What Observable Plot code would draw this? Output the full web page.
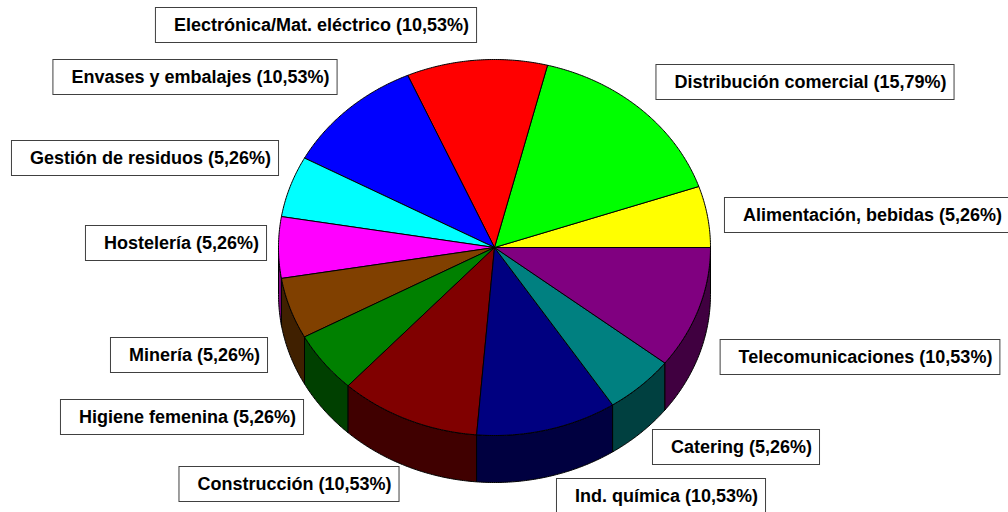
<!DOCTYPE html>
<html><head><meta charset="utf-8">
<script src="https://cdn.jsdelivr.net/npm/d3@7"></script>
<script src="https://cdn.jsdelivr.net/npm/@observablehq/plot@0.6"></script>
<style>html,body{margin:0;padding:0;background:#fff;} svg{display:block}</style>
</head><body><div id="chart"></div>
<script>
// ---- data ----
const sectors = ["Alimentación, bebidas","Distribución comercial","Electrónica/Mat. eléctrico","Envases y embalajes","Gestión de residuos","Hostelería","Minería","Higiene femenina","Construcción","Ind. química","Catering","Telecomunicaciones"];
const shares = [5.26,15.79,10.53,10.53,5.26,5.26,5.26,5.26,10.53,10.53,5.26,10.53];
const topColors = ["#FFFF00","#00FF00","#FF0000","#0000FF","#00FFFF","#FF00FF","#804000","#008000","#800000","#000080","#008080","#800080"];
const sideColors = ["#808000","#008000","#800000","#000080","#008080","#800080","#402000","#004000","#400000","#000040","#004040","#400040"];

// ---- layout ----
const W = 1008, H = 512;
const cx = 494, cy = 247, rx = 216, ry = 188, depth = 47;
const labelCenters = [[867,215],[805,82],[316,25],[195,77],[145,158],[176,243],[189,355],[182,417],[289,484],[661,496],[736,447],[860,357]];
const font = "bold 18px 'Liberation Sans', Arial, sans-serif";

const total = d3.sum(shares);
let acc = 0;
const slices = sectors.map((s, i) => {
  const a0 = acc / total * 2 * Math.PI; acc += shares[i];
  const a1 = acc / total * 2 * Math.PI;
  return {i, s, a0, a1};
});
const pt = (a, dz = 0) => ({x: cx + rx * Math.cos(a), y: cy - ry * Math.sin(a) + dz});
const step = Math.PI / 360;

const topPts = [];
slices.forEach(sl => {
  const n = Math.max(2, Math.ceil((sl.a1 - sl.a0) / step));
  topPts.push({id: sl.i, x: cx, y: cy, fill: topColors[sl.i]});
  for (let k = 0; k <= n; k++) topPts.push({id: sl.i, ...pt(sl.a0 + (sl.a1 - sl.a0) * k / n), fill: topColors[sl.i]});
  topPts.push({id: sl.i, x: cx, y: cy, fill: topColors[sl.i]});
});

const wallPts = [];
slices.forEach(sl => {
  const b0 = Math.max(sl.a0, Math.PI), b1 = Math.min(sl.a1, 2 * Math.PI);
  if (b1 <= b0) return;
  const n = Math.max(2, Math.ceil((b1 - b0) / step));
  const ring = [];
  for (let k = 0; k <= n; k++) ring.push(pt(b0 + (b1 - b0) * k / n));
  for (let k = n; k >= 0; k--) ring.push(pt(b0 + (b1 - b0) * k / n, depth));
  ring.push(ring[0]);
  ring.forEach(p => wallPts.push({id: sl.i, ...p, fill: sideColors[sl.i]}));
});

const ctx = document.createElement("canvas").getContext("2d");
ctx.font = font;
const labels = slices.map(sl => {
  const text = `${sl.s} (${shares[sl.i].toFixed(2).replace(".", ",")}%)`;
  const w = ctx.measureText(text).width + 26;
  const [lx, ly] = labelCenters[sl.i];
  return {text, x1: lx - w / 2, x2: lx + w / 2, y1: ly - 17.5, y2: ly + 17.5, tx: lx + 5, ty: ly};
});

const chart = Plot.plot({
  width: W, height: H, margin: 0,
  x: {domain: [0, W], range: [0, W], axis: null},
  y: {domain: [0, H], range: [0, H], axis: null},
  color: {type: "identity"},
  style: {background: "white"},
  marks: [
    Plot.line(wallPts, {x: "x", y: "y", z: "id", fill: "fill", stroke: "black", strokeWidth: 1, strokeLinejoin: "round"}),
    Plot.line(topPts, {x: "x", y: "y", z: "id", fill: "fill", stroke: "black", strokeWidth: 1, strokeLinejoin: "round"}),
    Plot.rect(labels, {x1: "x1", x2: "x2", y1: "y1", y2: "y2", fill: "white", stroke: "#404040", strokeWidth: 1}),
    Plot.text(labels, {x: "tx", y: "ty", text: "text", fill: "black", fontSize: 18, fontWeight: "bold", fontFamily: "'Liberation Sans', Arial, sans-serif"})
  ]
});
document.getElementById("chart").appendChild(chart);
</script>
</body></html>
